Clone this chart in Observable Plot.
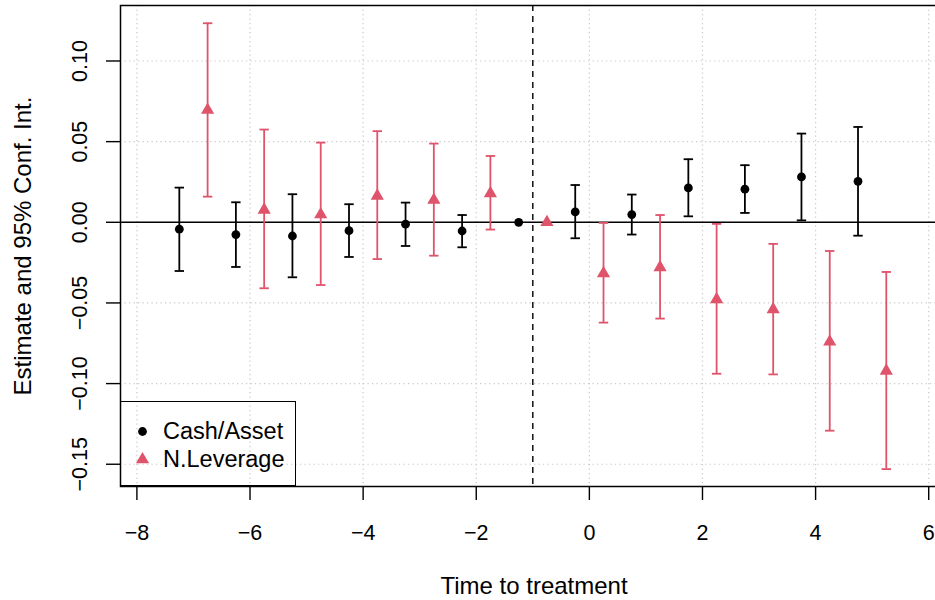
<!DOCTYPE html>
<html>
<head>
<meta charset="utf-8">
<script src="https://cdn.jsdelivr.net/npm/d3@7"></script>
<script src="https://cdn.jsdelivr.net/npm/@observablehq/plot@0.6"></script>
<style>
  html, body { margin: 0; padding: 0; background: #fff; }
  #wrap { position: relative; width: 935px; height: 600px; font-family: "Liberation Sans", Arial, Helvetica, sans-serif; }
  #legend { position: absolute; left: 120px; top: 401px; width: 176px; height: 85px; box-sizing: border-box; border: 1.5px solid #000; background: transparent; }
  .lg-row { position: absolute; left: 0; height: 28px; display: flex; align-items: center; font-size: 23.5px; color: #000; white-space: nowrap; }
  .lg-row svg { margin-left: 13px; margin-right: 12px; }
</style>
</head>
<body>
<div id="wrap"></div>
<script>
// ---- Data ----
const periods = [-7, -6, -5, -4, -3, -2, -1, 0, 1, 2, 3, 4, 5];
const seriesNames = ["Cash/Asset", "N.Leverage"];
const seriesColors = ["#000000", "#DF536B"];
const cashEst = [-0.0043, -0.0076, -0.0085, -0.0052, -0.0012, -0.0054, 0, 0.0064, 0.0048, 0.0213, 0.0205, 0.0281, 0.0254];
const cashLo  = [-0.0302, -0.0277, -0.0341, -0.0215, -0.0147, -0.0155, null, -0.0099, -0.0076, 0.0037, 0.0058, 0.0012, -0.0083];
const cashHi  = [0.0215, 0.0124, 0.0174, 0.0112, 0.0122, 0.0045, null, 0.0231, 0.0172, 0.0391, 0.0354, 0.0550, 0.0591];
const levEst  = [0.0696, 0.0077, 0.0048, 0.0164, 0.0138, 0.0179, 0, -0.0317, -0.0280, -0.0478, -0.0540, -0.0741, -0.0921];
const levLo   = [0.0159, -0.0409, -0.0389, -0.0228, -0.0207, -0.0045, null, -0.0622, -0.0597, -0.0939, -0.0943, -0.1292, -0.1530];
const levHi   = [0.1234, 0.0575, 0.0494, 0.0565, 0.0488, 0.0411, null, -0.0004, 0.0045, -0.0010, -0.0134, -0.0178, -0.0308];
const xTicks = [-8, -6, -4, -2, 0, 2, 4, 6];
const yTicks = [-0.15, -0.10, -0.05, 0.00, 0.05, 0.10];
const refPeriod = -1;
const xLabel = "Time to treatment";
const yLabel = "Estimate and 95% Conf. Int.";

// ---- Build table ----
const dodge = [-0.25, 0.25];
const rows = [];
[[cashEst, cashLo, cashHi], [levEst, levLo, levHi]].forEach(([est, lo, hi], s) => {
  periods.forEach((p, i) => rows.push({series: seriesNames[s], x: p + dodge[s], est: est[i], lo: lo[i], hi: hi[i]}));
});
const withCI = rows.filter(d => d.lo != null);
const cashRows = rows.filter(d => d.series === seriesNames[0]);
const levRows = rows.filter(d => d.series === seriesNames[1]);

const fmt = d => (d < 0 ? "\u2212" : "") + Math.abs(d).toFixed(2);
const fmtX = d => (d < 0 ? "\u2212" : "") + Math.abs(d);
const capSymbol = {draw(ctx, size) { const w = Math.sqrt(size / Math.PI); ctx.moveTo(-w, 0); ctx.lineTo(w, 0); }};
const font = '"Liberation Sans", Arial, Helvetica, sans-serif';

const chart = Plot.plot({
  width: 935,
  height: 600,
  marginLeft: 120,
  marginRight: 0,
  marginTop: 5,
  marginBottom: 114,
  style: {fontFamily: font, background: "white", color: "black", overflow: "visible"},
  x: {domain: [-8.29, 6.12]},
  y: {domain: [-0.1638, 0.1344]},
  color: {domain: seriesNames, range: seriesColors},
  marks: [
    Plot.gridX(xTicks, {stroke: "#c8c8c8", strokeOpacity: 1, strokeDasharray: "1.2,3.3", strokeWidth: 1.2}),
    Plot.gridY(yTicks, {stroke: "#c8c8c8", strokeOpacity: 1, strokeDasharray: "1.2,3.3", strokeWidth: 1.2}),
    Plot.ruleY([0], {stroke: "black", strokeWidth: 1.4}),
    Plot.ruleX([refPeriod], {stroke: "black", strokeWidth: 1.4, strokeDasharray: "6,5"}),
    Plot.axisX({ticks: xTicks, tickSize: 14, tickPadding: 24, tickFormat: fmtX, fontSize: 21.5, label: null, strokeWidth: 1.4}),
    Plot.axisY({ticks: yTicks, tickSize: 14, tickFormat: () => "", label: null, strokeWidth: 1.4}),
    Plot.text(yTicks, {y: d => d, frameAnchor: "left", textAnchor: "middle", lineAnchor: "middle", dx: -40, rotate: -90, text: fmt, fontSize: 21.5, fill: "black"}),
    Plot.text([xLabel], {frameAnchor: "bottom", textAnchor: "middle", dx: 6, dy: 107, fontSize: 24, fill: "black"}),
    Plot.text([yLabel], {frameAnchor: "left", textAnchor: "middle", lineAnchor: "middle", dx: -97, rotate: -90, fontSize: 24, fill: "black"}),
    Plot.ruleX(withCI, {x: "x", y1: "lo", y2: "hi", stroke: "series", strokeWidth: 1.8}),
    Plot.dot(withCI, {x: "x", y: "lo", symbol: capSymbol, r: 4.7, fill: "none", stroke: "series", strokeWidth: 1.8}),
    Plot.dot(withCI, {x: "x", y: "hi", symbol: capSymbol, r: 4.7, fill: "none", stroke: "series", strokeWidth: 1.8}),
    Plot.dot(cashRows, {x: "x", y: "est", symbol: "circle", fill: "series", stroke: null, r: 4.4}),
    Plot.dot(levRows, {x: "x", y: "est", symbol: "triangle", fill: "series", stroke: null, r: 4.9}),
    Plot.frame({stroke: "black", strokeWidth: 1.5, insetRight: -3})
  ]
});

const wrap = document.getElementById("wrap");
wrap.appendChild(chart);

// Legend (transparent box, drawn over the bottom-left of the panel)
const legend = document.createElement("div");
legend.id = "legend";
seriesNames.forEach((name, i) => {
  const row = document.createElement("div");
  row.className = "lg-row";
  row.style.top = (15 + i * 28) + "px";
  const sym = d3.create("svg").attr("width", 17).attr("height", 17).attr("viewBox", "-8.5 -8.5 17 17");
  const shape = i === 0 ? d3.symbol(d3.symbolCircle, Math.PI * 4.4 * 4.4) : d3.symbol(d3.symbolTriangle, Math.PI * 4.9 * 4.9);
  sym.append("path").attr("d", shape()).attr("fill", seriesColors[i]);
  row.appendChild(sym.node());
  const t = document.createElement("span");
  t.textContent = name;
  row.appendChild(t);
  legend.appendChild(row);
});
wrap.appendChild(legend);
</script>
</body>
</html>
